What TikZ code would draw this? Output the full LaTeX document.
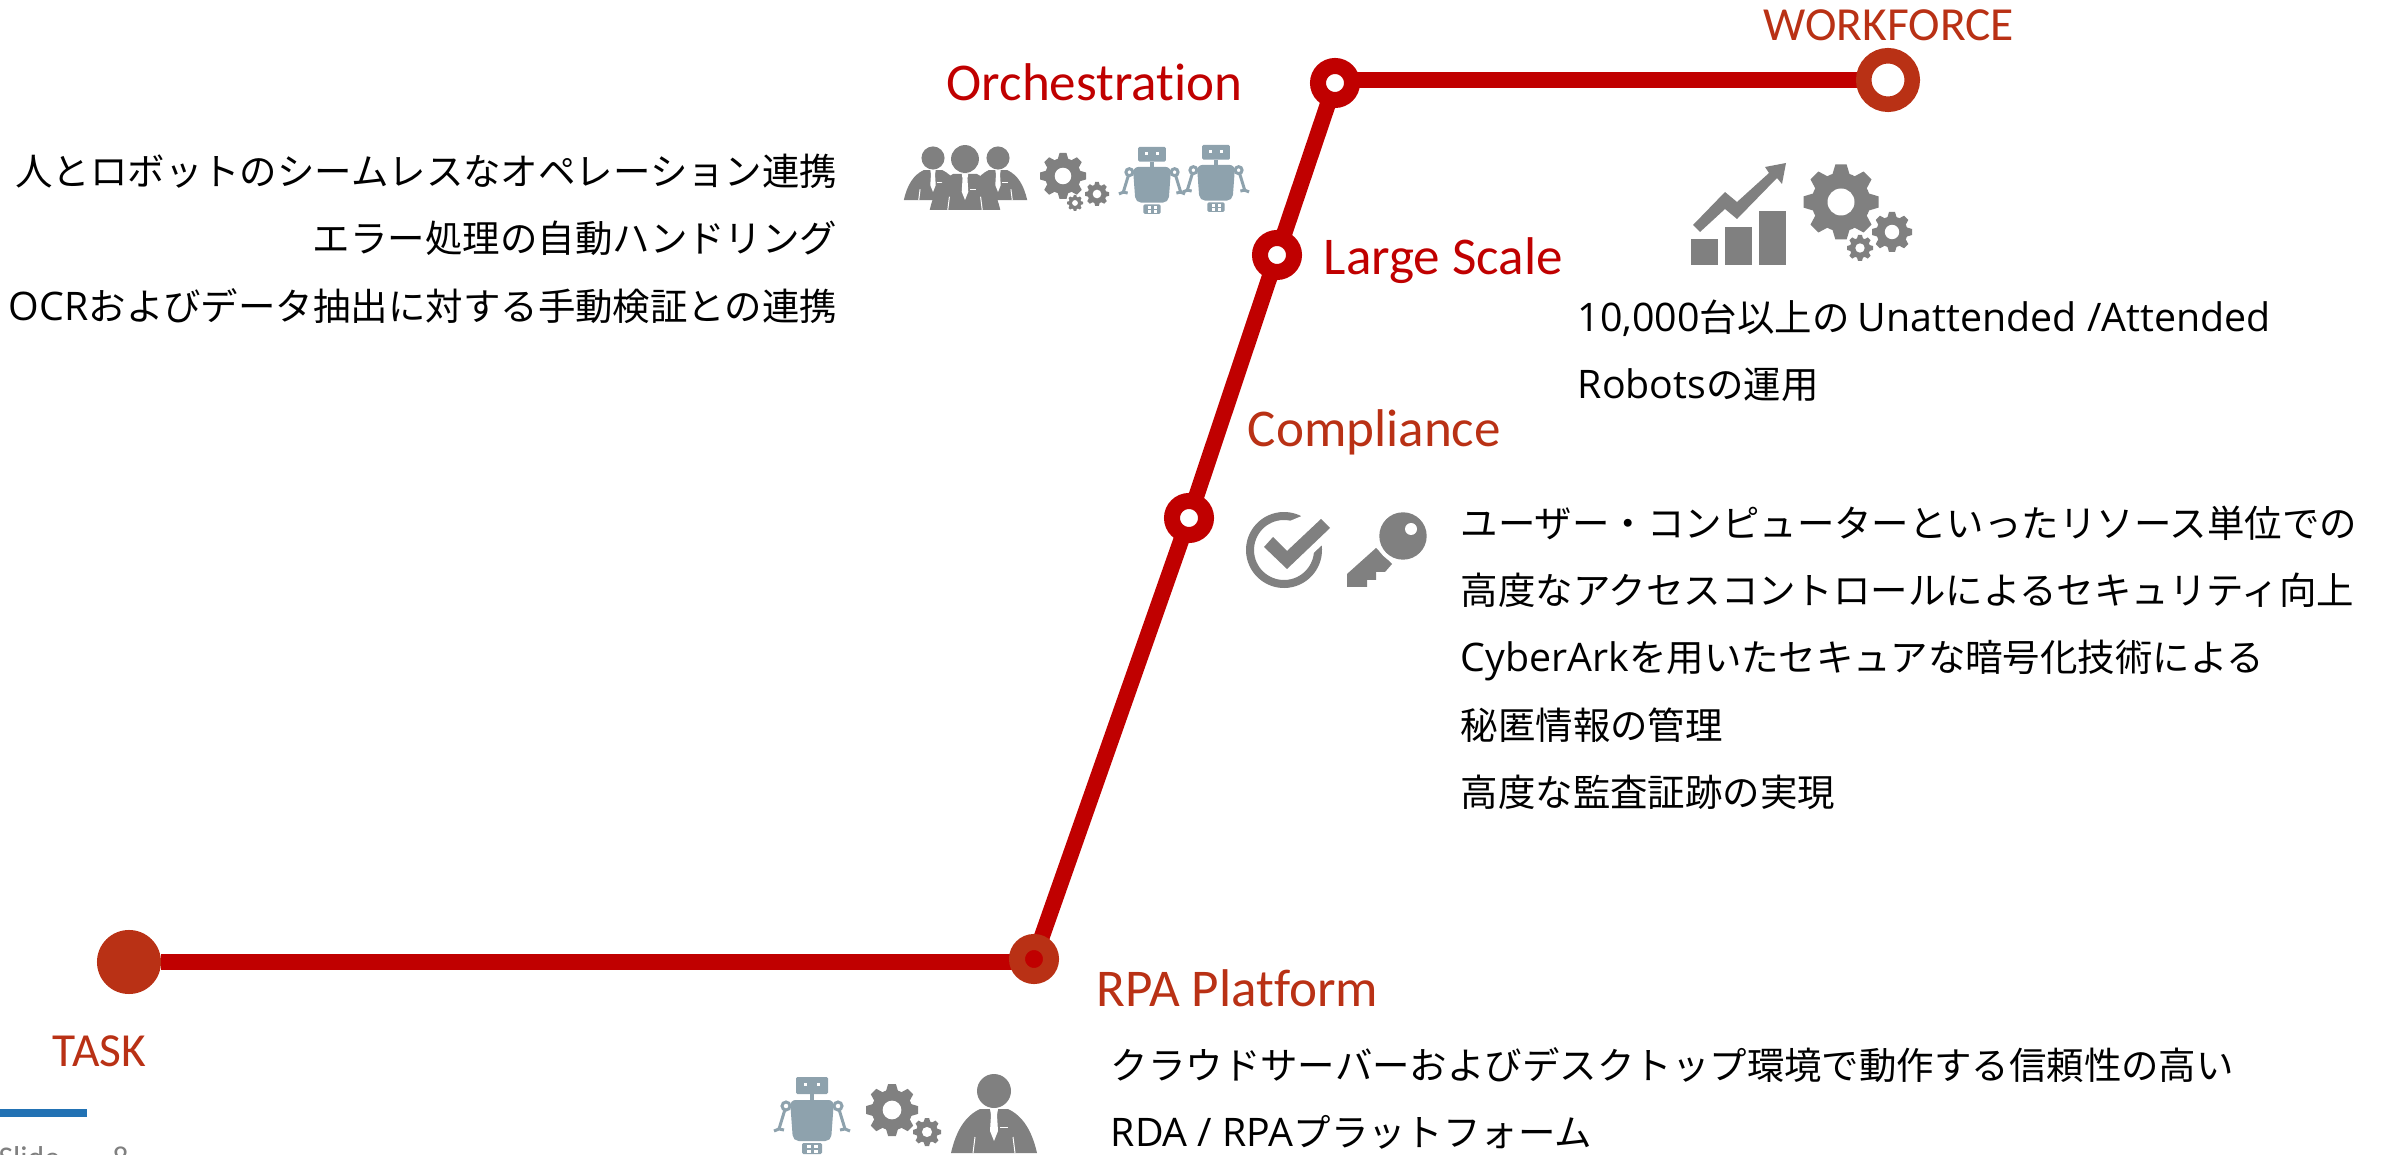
\documentclass[tikz,border=0pt]{standalone}
\usepackage{fontspec}
\setmainfont{Noto Sans CJK JP}
\newfontfamily\headfont[Ligatures=NoCommon]{Carlito}
\newfontfamily\latinfont[Scale=1.05]{Open Sans}
\usepackage{tikz}
\usetikzlibrary{backgrounds}

\definecolor{railred}{HTML}{C00000}
\definecolor{endred}{HTML}{B93115}
\definecolor{icongray}{HTML}{808080}
\definecolor{robotgray}{HTML}{8EA2AD}
\definecolor{barblue}{HTML}{2272B4}

\tikzset{
    rail/.style={railred, line width=1.6mm},
    stopring/.style={circle, draw=railred, fill=white, line width=1.6mm, minimum size=3.4mm, inner sep=0pt, outer sep=0pt},
    headred/.style={anchor=base west, inner sep=0pt, text=railred, font=\headfont\fontsize{15.1pt}{17pt}\selectfont},
    headend/.style={headred, text=endred},
    headcaps/.style={headend, font=\headfont\fontsize{13.5pt}{15pt}\selectfont},
    bodyline/.style={anchor=base west, inner sep=0pt, text=black, font=\fontsize{10.65pt}{12pt}\selectfont},
    bodyright/.style={bodyline, anchor=base east},
    footlabel/.style={anchor=base west, inner sep=0pt, text=icongray, font=\headfont\fontsize{9pt}{10pt}\selectfont},
    pics/gearicon/.style={code={
        \fill[icongray] (0,0) circle (0.78);
        \foreach \a in {0,45,...,315}
            \fill[icongray, rotate=\a] (-0.24,0.7) -- (-0.15,1) -- (0.15,1) -- (0.24,0.7) -- cycle;
        \fill[white] (0,0) circle (0.36);
    }},
    pics/personicon/.style={code={
        \fill[icongray] (0,0) circle (17);
        \fill[icongray] (-43,62) .. controls (-38,40) and (-29,25) .. (-14,18) -- (14,18) .. controls (29,25) and (38,40) .. (43,62) -- cycle;
        % Tie
        \fill[white] (-4,18) -- (4,18) -- (3,24) -- (4,40) -- (0,50) -- (-4,40) -- (-3,24) -- cycle;
        \fill[white] (6,36) rectangle (14,37);
        \draw[white, line width=0.1mm] (-21,62) -- (-19,46);
        \draw[white, line width=0.1mm] (21,62) -- (19,46);
    }},
    pics/roboticon/.style={code={
        \fill[robotgray, rounded corners=0.4pt] (-16,-38) rectangle (16,-21);
        \fill[white] (-8,-32) rectangle (-5,-29);
        \fill[white] (5,-32) rectangle (8,-29);
        \fill[robotgray] (-2,-21) rectangle (2,-15);
        \fill[robotgray, rounded corners=1.6pt] (-22,-15) -- (22,-15) -- (19,26) -- (-19,26) -- cycle;
        \fill[robotgray, rounded corners=0.4pt] (-10,28) rectangle (10,39);
        \fill[white] (-5,30) rectangle (-1,33);
        \fill[white] (2,30) rectangle (6,33);
        \fill[white] (-5,35) rectangle (-1,38);
        \fill[white] (2,35) rectangle (6,38);
        % Arms
        \foreach \s in {-1,1} {
            \draw[robotgray, line width=0.3mm] (\s*26,-9) -- (\s*33,14);
            \draw[robotgray, line width=0.3mm] (\s*28,15) -- (\s*33,14) -- (\s*38,16);
            \filldraw[fill=white, draw=robotgray, line width=0.3mm] (\s*26,-9) circle (4);
        }
    }},
}

\begin{document}
\begin{tikzpicture}[x=0.01cm, y=-0.01cm]
    \useasboundingbox (0,0) rectangle (2384,1155);

    % Stops
    \node[circle, fill=endred, minimum size=6.4mm, inner sep=0pt, outer sep=0pt] (task) at (129,962) {};
    \node[circle, draw=endred, fill=railred, line width=1.6mm, minimum size=3.4mm, inner sep=0pt, outer sep=0pt] (platform) at (1034,959) {};
    \node[stopring] (compliance) at (1189,518) {};
    \node[stopring] (scale) at (1277,255) {};
    \node[stopring] (orchestration) at (1335,83) {};
    \node[stopring, draw=endred, line width=1.55mm, minimum size=4.85mm] (workforce) at (1888,80) {};

    % Rail
    \begin{pgfonlayer}{background}
    \draw[rail] (task) -- (task -| platform.west);
    \draw[rail] (platform) -- (compliance);
    \draw[rail] (compliance) -- (scale);
    \draw[rail] (scale) -- (orchestration);
    \draw[rail] (workforce) -- (workforce -| orchestration.east);
    \end{pgfonlayer}

    % Headings
    \node[headcaps] (tasklabel) at (52,1066) {TASK};
    \node[headend] (platformlabel) at (1096,1006) {RPA Platform};
    \node[headend] (compliancelabel) at (1247,447) {Compliance};
    \node[headred] (scalelabel) at (1323,275) {Large Scale};
    \node[headred] (orchestrationlabel) at (946,101) {Orchestration};
    \node[headcaps] (workforcelabel) at (1763,41) {WORKFORCE};

    % Body text
    \node[bodyright] (orcha) at (838,186) {人とロボットのシームレスなオペレーション連携};
    \node[bodyright] (orchb) at (838,253) {エラー処理の自動ハンドリング};
    \node[bodyright] (orchc) at (838,321) {{\latinfont OCR}およびデータ抽出に対する手動検証との連携};
    \node[bodyline] (worka) at (1577,332) {{\latinfont 10,000}台以上の {\latinfont Unattended /Attended}};
    \node[bodyline] (workb) at (1577,399) {{\latinfont Robots}の運用};
    \node[bodyline] (compa) at (1460,538) {ユーザー・コンピューターといったリソース単位での};
    \node[bodyline] (compb) at (1460,605) {高度なアクセスコントロールによるセキュリティ向上};
    \node[bodyline] (compc) at (1460,672) {{\latinfont CyberArk}を用いたセキュアな暗号化技術による};
    \node[bodyline] (compd) at (1460,739) {秘匿情報の管理};
    \node[bodyline] (compe) at (1460,806) {高度な監査証跡の実現};
    \node[bodyline] (rpaa) at (1110,1079) {クラウドサーバーおよびデスクトップ環境で動作する信頼性の高い};
    \node[bodyline] (rpab) at (1110,1146) {{\latinfont RDA / RPA}プラットフォーム};

    % Orchestration icons
    \pic[scale=0.68] at (933,158) {personicon};
    \pic[scale=0.68] at (998,158) {personicon};
    \pic[scale=0.82] at (965,159) {personicon};
    \pic[scale=23] at (1063,176) {gearicon};
    \pic[scale=12] at (1097,194) {gearicon};
    \pic[scale=8] at (1075,203) {gearicon};
    \pic[scale=0.87] at (1152,180) {roboticon};
    \pic[scale=0.87] at (1216,178) {roboticon};

    % Workforce icons
    \fill[icongray] (1691,265) rectangle (1718,239);
    \fill[icongray] (1725,265) rectangle (1752,227);
    \fill[icongray] (1759,265) rectangle (1786,211);
    \fill[icongray] (1693,225) -- (1725,192) -- (1737,202) -- (1769,173) -- (1765,167) -- (1786,163) -- (1782,184) -- (1777,178) -- (1737,219) -- (1725,209) -- (1700,232) -- cycle;
    \pic[scale=37.5] at (1841,202) {gearicon};
    \pic[scale=20] at (1892,232) {gearicon};
    \pic[scale=13] at (1860,248) {gearicon};

    % Compliance icons
    \draw[icongray, line width=0.8mm] ([shift={(-7:34)}]1284,550) arc (-7:303:34);
    \fill[white] (1264,540) -- (1273,528) -- (1321,508) -- (1340,528) -- (1287,578) -- cycle;
    \fill[icongray] (1264,547) -- (1273,537) -- (1287,551) -- (1321,519) -- (1330,528) -- (1287,569) -- cycle;
    \fill[icongray] (1376,548) -- (1392,564) -- (1385,572) -- (1376,572) -- (1376,580) -- (1367,580) -- (1367,587) -- (1347,587) -- (1347,574) -- cycle;
    \fill[white] (1403,536) circle (28);
    \fill[icongray] (1403,536) circle (23.7);
    \fill[white] (1411,529) circle (6);

    % RPA icons
    \pic at (812,1115) {roboticon};
    \pic[scale=26] at (892,1110) {gearicon};
    \pic[scale=14] at (927,1132) {gearicon};
    \pic at (994,1091) {personicon};

    % Footer
    \fill[barblue] (0,1109) rectangle (87,1117);
    \node[footlabel] (slidelabel) at (-2,1168) {Slide};
    \node[footlabel] (slidenum) at (112,1168) {8};
\end{tikzpicture}
\end{document}
